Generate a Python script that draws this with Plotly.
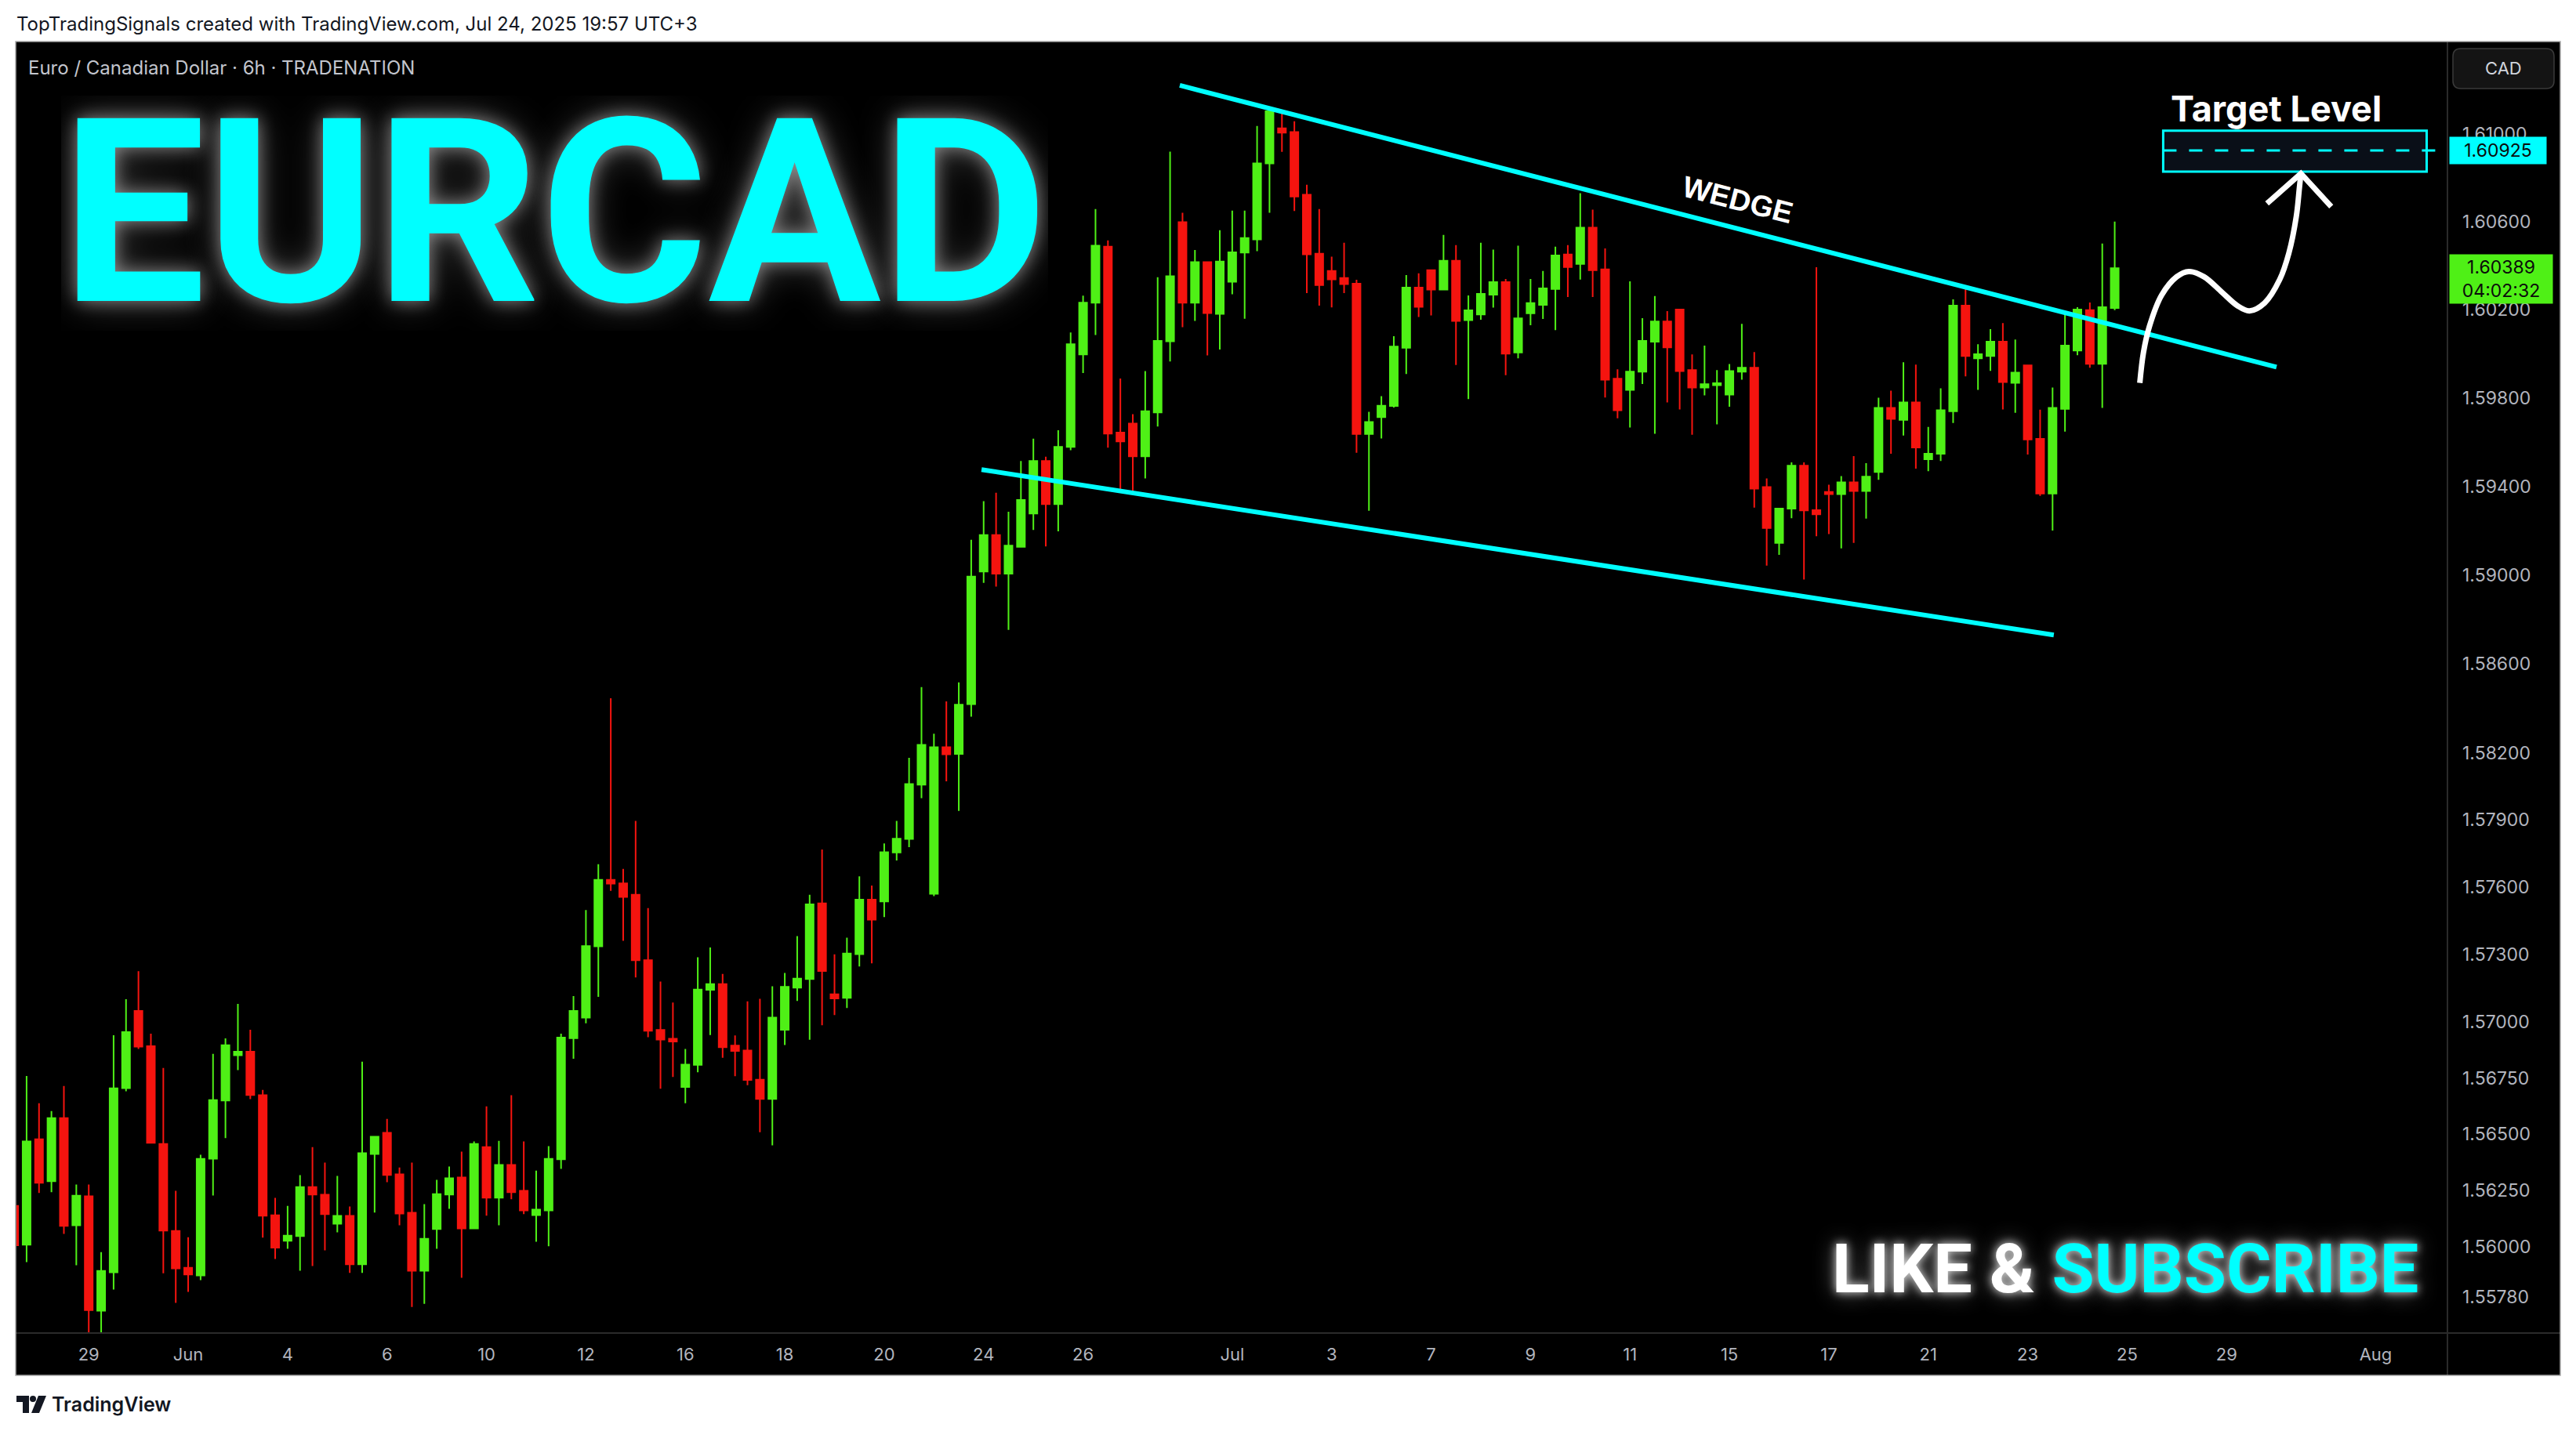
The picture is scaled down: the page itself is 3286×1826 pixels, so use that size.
import math
import plotly.graph_objects as go

W, H = 3286, 1826

# ---------------- data (EURCAD, 6h bars) ----------------
first_bar = -6          # bar index of the first visible candle (0 = May 29, 00:00)
bars_per_day = 4

opens = [
    1.56183, 1.56011, 1.56478, 1.56292, 1.56572, 1.56097,
    1.56225, 1.55719, 1.55889, 1.56705, 1.57048, 1.56891, 1.56457, 1.56072, 1.55909, 1.55875,
    1.56392, 1.56650, 1.56851, 1.56867, 1.56673, 1.56141, 1.56028, 1.56049, 1.56266, 1.56232,
    1.56104, 1.56138, 1.55924, 1.56413, 1.56506, 1.56322, 1.56152, 1.55896, 1.56080, 1.56233,
    1.56308, 1.56083, 1.56443, 1.56219, 1.56364, 1.56249, 1.56142, 1.56163, 1.56389, 1.56927,
    1.57018, 1.57336, 1.57632, 1.57617, 1.57566, 1.57274, 1.56963, 1.56924, 1.56710, 1.56808,
    1.57142, 1.57167, 1.56894, 1.56872, 1.56742, 1.56657, 1.56964, 1.57152, 1.57190, 1.57527,
    1.57122, 1.57106, 1.57301, 1.57544, 1.57536, 1.57755, 1.57815, 1.58058, 1.57570, 1.58226,
    1.58196, 1.58419, 1.59016, 1.59180, 1.59006, 1.59127, 1.59278, 1.59515, 1.59320, 1.59579,
    1.59997, 1.60232, 1.60487, 1.59643, 1.59684, 1.59536, 1.59735, 1.60057, 1.60598, 1.60232,
    1.60416, 1.60181, 1.60327, 1.60460, 1.60520, 1.60866, 1.61026, 1.61009, 1.60723, 1.60455,
    1.60376, 1.60344, 1.60318, 1.59637, 1.59713, 1.59764, 1.60028, 1.60301, 1.60380, 1.60292,
    1.60423, 1.60153, 1.60179, 1.60269, 1.60326, 1.60006, 1.60184, 1.60222, 1.60294, 1.60451,
    1.60408, 1.60573, 1.60383, 1.59887, 1.59837, 1.59919, 1.60055, 1.60147, 1.60201, 1.59926,
    1.59847, 1.59858, 1.59815, 1.59919, 1.59937, 1.59397, 1.59145, 1.59300, 1.59494, 1.59293,
    1.59375, 1.59365, 1.59418, 1.59379, 1.59465, 1.59755, 1.59701, 1.59780, 1.59523, 1.59548,
    1.59740, 1.60219, 1.59980, 1.59990, 1.60055, 1.59869, 1.59948, 1.59615, 1.59368, 1.59751,
    1.60015, 1.60198, 1.59955, 1.60208,
]
highs = [
    1.56220, 1.56759, 1.56638, 1.56603, 1.56714, 1.56277,
    1.56277, 1.55978, 1.56940, 1.57100, 1.57225, 1.56947, 1.56794, 1.56249, 1.56044, 1.56409,
    1.56857, 1.56926, 1.57079, 1.56964, 1.56697, 1.56218, 1.56183, 1.56319, 1.56443, 1.56374,
    1.56315, 1.56180, 1.56822, 1.56489, 1.56568, 1.56353, 1.56374, 1.56190, 1.56298, 1.56357,
    1.56423, 1.56468, 1.56624, 1.56471, 1.56673, 1.56468, 1.56339, 1.56447, 1.56947, 1.57114,
    1.57498, 1.57702, 1.58446, 1.57681, 1.57896, 1.57506, 1.57179, 1.57085, 1.56879, 1.57287,
    1.57331, 1.57213, 1.56939, 1.57091, 1.57102, 1.57158, 1.57217, 1.57381, 1.57566, 1.57768,
    1.57300, 1.57374, 1.57648, 1.57607, 1.57795, 1.57896, 1.58179, 1.58496, 1.58287, 1.58432,
    1.58517, 1.59159, 1.59333, 1.59371, 1.59286, 1.59515, 1.59616, 1.59534, 1.59654, 1.60097,
    1.60264, 1.60658, 1.60515, 1.59888, 1.59727, 1.59922, 1.60348, 1.60920, 1.60641, 1.60472,
    1.60416, 1.60562, 1.60651, 1.60651, 1.61037, 1.61109, 1.61098, 1.61058, 1.60769, 1.60658,
    1.60441, 1.60505, 1.60336, 1.59737, 1.59808, 1.60080, 1.60358, 1.60366, 1.60380, 1.60540,
    1.60494, 1.60265, 1.60505, 1.60473, 1.60340, 1.60491, 1.60340, 1.60376, 1.60487, 1.60494,
    1.60730, 1.60655, 1.60479, 1.59930, 1.60329, 1.60162, 1.60262, 1.60194, 1.60201, 1.59997,
    1.60037, 1.59926, 1.59954, 1.60136, 1.60008, 1.59436, 1.59300, 1.59509, 1.59509, 1.60393,
    1.59408, 1.59447, 1.59537, 1.59505, 1.59801, 1.59833, 1.59962, 1.59951, 1.59669, 1.59844,
    1.60247, 1.60305, 1.60044, 1.60112, 1.60140, 1.60065, 1.59951, 1.59747, 1.59847, 1.60190,
    1.60212, 1.60233, 1.60501, 1.60601,
]
lows = [
    1.55970, 1.55934, 1.56240, 1.56243, 1.56059, 1.55920,
    1.55612, 1.55618, 1.55813, 1.56691, 1.56879, 1.56460, 1.55885, 1.55754, 1.55802, 1.55854,
    1.56229, 1.56483, 1.56785, 1.56656, 1.56042, 1.55948, 1.55993, 1.55896, 1.55917, 1.55986,
    1.56066, 1.55886, 1.55886, 1.56153, 1.56288, 1.56097, 1.55736, 1.55750, 1.55993, 1.56170,
    1.55865, 1.56083, 1.56139, 1.56097, 1.56212, 1.56146, 1.56024, 1.56004, 1.56347, 1.56835,
    1.56993, 1.57111, 1.57583, 1.57360, 1.57197, 1.56931, 1.56702, 1.56754, 1.56638, 1.56775,
    1.56941, 1.56840, 1.56758, 1.56718, 1.56509, 1.56451, 1.56896, 1.57092, 1.56920, 1.56984,
    1.57030, 1.57061, 1.57246, 1.57260, 1.57466, 1.57719, 1.57779, 1.57998, 1.57560, 1.58073,
    1.57941, 1.58363, 1.58965, 1.58948, 1.58753, 1.59127, 1.59203, 1.59129, 1.59197, 1.59564,
    1.59913, 1.60085, 1.59575, 1.59378, 1.59378, 1.59436, 1.59671, 1.59965, 1.60121, 1.60149,
    1.59993, 1.60020, 1.60270, 1.60159, 1.60466, 1.60641, 1.60919, 1.60649, 1.60276, 1.60219,
    1.60211, 1.60276, 1.59552, 1.59290, 1.59617, 1.59757, 1.59909, 1.60167, 1.60174, 1.60292,
    1.59949, 1.59795, 1.60155, 1.60210, 1.59903, 1.59980, 1.60130, 1.60158, 1.60108, 1.60258,
    1.60337, 1.60258, 1.59802, 1.59708, 1.59666, 1.59863, 1.59638, 1.59780, 1.59748, 1.59634,
    1.59812, 1.59681, 1.59760, 1.59883, 1.59304, 1.59043, 1.59091, 1.59256, 1.58980, 1.59175,
    1.59185, 1.59120, 1.59145, 1.59255, 1.59430, 1.59548, 1.59630, 1.59480, 1.59469, 1.59515,
    1.59687, 1.59898, 1.59837, 1.59923, 1.59748, 1.59733, 1.59544, 1.59357, 1.59201, 1.59648,
    1.59994, 1.59937, 1.59755, 1.60198,
]
closes = [
    1.56008, 1.56468, 1.56285, 1.56572, 1.56094, 1.56228,
    1.55722, 1.55895, 1.56704, 1.56954, 1.56889, 1.56462, 1.56073, 1.55906, 1.55879, 1.56391,
    1.56652, 1.56895, 1.56867, 1.56674, 1.56139, 1.55998, 1.56051, 1.56266, 1.56233, 1.56146,
    1.56138, 1.55924, 1.56416, 1.56489, 1.56320, 1.56149, 1.55896, 1.56037, 1.56235, 1.56305,
    1.56083, 1.56457, 1.56219, 1.56364, 1.56243, 1.56163, 1.56166, 1.56391, 1.56929, 1.57048,
    1.57337, 1.57632, 1.57616, 1.57556, 1.57274, 1.56960, 1.56921, 1.56912, 1.56809, 1.57143,
    1.57167, 1.56887, 1.56870, 1.56741, 1.56657, 1.57018, 1.57155, 1.57192, 1.57523, 1.57226,
    1.57104, 1.57304, 1.57544, 1.57455, 1.57756, 1.57816, 1.58061, 1.58237, 1.58226, 1.58194,
    1.58417, 1.58993, 1.59180, 1.59006, 1.59133, 1.59339, 1.59515, 1.59320, 1.59579, 1.60044,
    1.60232, 1.60491, 1.59639, 1.59603, 1.59536, 1.59740, 1.60059, 1.60352, 1.60232, 1.60416,
    1.60185, 1.60419, 1.60461, 1.60526, 1.60866, 1.61104, 1.61006, 1.60715, 1.60452, 1.60312,
    1.60338, 1.60317, 1.59637, 1.59691, 1.59765, 1.60033, 1.60301, 1.60213, 1.60292, 1.60423,
    1.60149, 1.60197, 1.60272, 1.60326, 1.60001, 1.60161, 1.60230, 1.60297, 1.60447, 1.60394,
    1.60573, 1.60380, 1.59883, 1.59744, 1.59919, 1.60059, 1.60147, 1.60029, 1.59922, 1.59847,
    1.59862, 1.59867, 1.59922, 1.59937, 1.59390, 1.59212, 1.59300, 1.59494, 1.59292, 1.59274,
    1.59365, 1.59418, 1.59379, 1.59444, 1.59755, 1.59705, 1.59780, 1.59576, 1.59548, 1.59744,
    1.60219, 1.59990, 1.59998, 1.60055, 1.59872, 1.59915, 1.59612, 1.59368, 1.59755, 1.60037,
    1.60201, 1.59955, 1.60212, 1.60389,
]

# time axis: labels and their trading-day index (0 = May 29, weekends skipped)
tick_labels = ["29", "Jun", "4", "6", "10", "12", "16", "18", "20", "24", "26", "Jul",
               "3", "7", "9", "11", "15", "17", "21", "23", "25", "29", "Aug"]
tick_day_index = [0, 2, 4, 6, 8, 10, 12, 14, 16, 18, 20, 23, 25, 27, 29, 31, 33, 35, 37, 39, 41, 43, 46]

# price axis ticks
price_ticks = [1.61000, 1.60600, 1.60200, 1.59800, 1.59400, 1.59000, 1.58600, 1.58200, 1.57900,
               1.57600, 1.57300, 1.57000, 1.56750, 1.56500, 1.56250, 1.56000, 1.55780]

last_price = 1.60389
countdown = "04:02:32"
target_price = 1.60925
target_zone = [1.60828, 1.61015]          # low / high of the target box
target_zone_bars = [166.9, 188.1]

# wedge trend lines (bar index, price)
wedge_upper_bars = [87.78, 176.02]
wedge_upper_prices = [1.61222, 1.59940]
wedge_lower_bars = [71.83, 158.10]
wedge_lower_prices = [1.59476, 1.58730]

# hand-drawn projection arrow (bar index, price)
arrow_bars = [165.02, 165.31, 165.79, 166.77, 167.99, 168.96, 170.18, 171.64, 172.86,
              173.84, 175.06, 176.28, 177.01, 177.61, 177.86, 177.98]
arrow_prices = [1.59868, 1.60005, 1.60124, 1.60266, 1.60350, 1.60374, 1.60350, 1.60279, 1.60219,
                1.60195, 1.60231, 1.60338, 1.60457, 1.60624, 1.60755, 1.60820]
arrow_head_bars = [175.25, 177.98, 180.42]
arrow_head_prices = [1.60683, 1.60820, 1.60669]

# view
x_view = [-5.815, 189.77]
y_view = [1.556208, 1.614225]

# ---------------- styling ----------------
GREEN = "#4ff016"
RED = "#f5140f"
CYAN = "#00ffff"
AXIS_TXT = "#b2b5be"
UI_FONT = "Inter, Roboto, sans-serif"
BIG_FONT = "Roboto, sans-serif"


def px(x):
    return x / W


def py(y):
    return 1 - y / H


def rrect_path(x0, y0, x1, y1, r):
    def P(x, y):
        return f"{px(x):.6f},{py(y):.6f}"
    return (f"M{P(x0 + r, y0)} L{P(x1 - r, y0)} Q{P(x1, y0)} {P(x1, y0 + r)} "
            f"L{P(x1, y1 - r)} Q{P(x1, y1)} {P(x1 - r, y1)} L{P(x0 + r, y1)} "
            f"Q{P(x0, y1)} {P(x0, y1 - r)} L{P(x0, y0 + r)} Q{P(x0, y0)} {P(x0 + r, y0)} Z")


def poly_path(pts):
    return "M" + " L".join(f"{px(x):.6f},{py(y):.6f}" for x, y in pts) + " Z"


bar_index = list(range(first_bar, first_bar + len(opens)))

fig = go.Figure()

fig.add_trace(go.Candlestick(
    x=bar_index, open=opens, high=highs, low=lows, close=closes,
    increasing=dict(line=dict(color=GREEN, width=2), fillcolor=GREEN),
    decreasing=dict(line=dict(color=RED, width=2), fillcolor=RED),
    whiskerwidth=0, hoverinfo="skip", showlegend=False,
))

# wedge lines
for bx, pr in [(wedge_upper_bars, wedge_upper_prices), (wedge_lower_bars, wedge_lower_prices)]:
    fig.add_trace(go.Scatter(x=bx, y=pr, mode="lines", line=dict(color=CYAN, width=6),
                             hoverinfo="skip", showlegend=False))

# target dashed level
fig.add_trace(go.Scatter(x=[target_zone_bars[0], x_view[1]], y=[target_price, target_price],
                         mode="lines", line=dict(color=CYAN, width=3, dash="17px,16px"),
                         hoverinfo="skip", showlegend=False))

# projection arrow
fig.add_trace(go.Scatter(x=arrow_bars, y=arrow_prices, mode="lines",
                         line=dict(color="white", width=7, shape="spline", smoothing=1.0),
                         hoverinfo="skip", showlegend=False))
fig.add_trace(go.Scatter(x=arrow_head_bars, y=arrow_head_prices, mode="lines",
                         line=dict(color="white", width=7),
                         hoverinfo="skip", showlegend=False))

shapes = [
    # black chart panel (incl. axes)
    dict(type="rect", xref="paper", yref="paper", x0=px(20), x1=px(3266), y0=py(1755), y1=py(53),
         fillcolor="black", line=dict(width=0), layer="below"),
    # target zone box
    dict(type="rect", xref="x", yref="y", x0=target_zone_bars[0], x1=target_zone_bars[1],
         y0=target_zone[0], y1=target_zone[1], fillcolor="#0a0f18",
         line=dict(color=CYAN, width=3), layer="below"),
    # separators
    dict(type="line", xref="paper", yref="paper", x0=px(3122), x1=px(3122), y0=py(1755), y1=py(53),
         line=dict(color="#2a2a2a", width=2)),
    dict(type="line", xref="paper", yref="paper", x0=px(20), x1=px(3266), y0=py(1701), y1=py(1701),
         line=dict(color="#2a2a2a", width=2)),
    # frame
    dict(type="rect", xref="paper", yref="paper", x0=px(20), x1=px(3266), y0=py(1755), y1=py(53),
         line=dict(color="#a8a8a8", width=1.5), fillcolor="rgba(0,0,0,0)"),
    # CAD button
    dict(type="path", xref="paper", yref="paper", path=rrect_path(3129, 62, 3258, 113, 10),
         fillcolor="#141414", line=dict(color="#3a3a3a", width=1.5)),
    # TradingView logo
    dict(type="path", xref="paper", yref="paper",
         path=poly_path([(21, 1781), (37, 1781), (37, 1803), (29, 1803), (29, 1789), (21, 1789)]),
         fillcolor="#131722", line=dict(width=0)),
    dict(type="circle", xref="paper", yref="paper", x0=px(38), x1=px(46), y0=py(1789), y1=py(1781),
         fillcolor="#131722", line=dict(width=0)),
    dict(type="path", xref="paper", yref="paper",
         path=poly_path([(49, 1781), (59, 1781), (50, 1803), (40, 1803)]),
         fillcolor="#131722", line=dict(width=0)),
]

annotations = [
    dict(text="TopTradingSignals created with TradingView.com, Jul 24, 2025 19:57 UTC+3",
         xref="paper", yref="paper", x=px(19), y=py(31), xanchor="left", yanchor="middle",
         showarrow=False, font=dict(family=UI_FONT, size=24, color="#131722")),
    dict(text="Euro / Canadian Dollar · 6h · TRADENATION",
         xref="paper", yref="paper", x=px(34), y=py(86), xanchor="left", yanchor="middle",
         showarrow=False, font=dict(family=UI_FONT, size=24, color="#c3c6ce")),
    dict(text="EURCAD", xref="paper", yref="paper", x=px(76), y=py(272), xanchor="left",
         yanchor="middle", showarrow=False, height=300, valign="middle",
         font=dict(family=BIG_FONT, size=328, color=CYAN, weight="bold",
                   shadow="0 0 22px rgba(255,255,255,0.45), 0 0 50px rgba(255,255,255,0.28)")),
    dict(text="WEDGE", xref="paper", yref="paper", x=px(2217), y=py(255), xanchor="center",
         yanchor="middle", showarrow=False, textangle=14.4,
         font=dict(family="Liberation Sans, Arial, sans-serif", size=38, color="white", weight="bold")),
    dict(text="Target Level", xref="paper", yref="paper", x=px(2903), y=py(138), xanchor="center",
         yanchor="middle", showarrow=False,
         font=dict(family=UI_FONT, size=45, color="white", weight="bold")),
    dict(text='LIKE &amp; <span style="color:#00ffff">SUBSCRIBE</span>', xref="paper", yref="paper",
         x=px(2711), y=py(1618), xanchor="center", yanchor="middle", showarrow=False,
         font=dict(family=BIG_FONT, size=88, color="white", weight="bold",
                   shadow="0 0 12px rgba(255,255,255,0.85), 0 0 28px rgba(255,255,255,0.45)")),
    # price-axis labels
    dict(text=f"{target_price:.5f}", xref="paper", yref="y", x=px(3124), y=math.log10(target_price),
         xanchor="left", yanchor="middle", showarrow=False, bgcolor=CYAN, borderpad=0,
         width=123, height=34, align="center",
         font=dict(family=UI_FONT, size=23, color="#0b0b0b")),
    dict(text=f"{last_price:.5f}<br>{countdown}", xref="paper", yref="y", x=px(3124),
         y=math.log10(last_price), yshift=18, xanchor="left", yanchor="top", showarrow=False,
         bgcolor=GREEN, borderpad=0, width=131, height=62, align="center",
         font=dict(family=UI_FONT, size=23, color="#0b0b0b")),
    dict(text="CAD", xref="paper", yref="paper", x=px(3193.5), y=py(87.5), xanchor="center",
         yanchor="middle", showarrow=False, font=dict(family=UI_FONT, size=22, color="#d1d4dc")),
    dict(text="TradingView", xref="paper", yref="paper", x=px(64), y=py(1792), xanchor="left",
         yanchor="middle", showarrow=False,
         font=dict(family=UI_FONT, size=25, color="#131722", weight=600)),
]

fig.update_layout(
    width=W, height=H, margin=dict(l=0, r=0, t=0, b=0),
    paper_bgcolor="white", plot_bgcolor="black",
    boxgap=0.37, boxgroupgap=0, showlegend=False,
    xaxis=dict(domain=[px(21), px(3122)], range=x_view,
               tickvals=[d * bars_per_day for d in tick_day_index], ticktext=tick_labels,
               showgrid=False, zeroline=False, showline=False, ticks="",
               tickfont=dict(family=UI_FONT, size=22, color=AXIS_TXT), ticklabelstandoff=12,
               rangeslider=dict(visible=False)),
    yaxis=dict(domain=[1 - 1701 / H, 1 - 53 / H], type="log",
               range=[math.log10(y_view[0]), math.log10(y_view[1])], side="right",
               tickvals=price_ticks, ticktext=[f"{v:.5f}" for v in price_ticks],
               showgrid=False, zeroline=False, showline=False, ticks="",
               tickfont=dict(family=UI_FONT, size=23, color=AXIS_TXT), ticklabelstandoff=18),
    shapes=shapes, annotations=annotations,
)

fig.write_html(
    "out.html",
    config={"displayModeBar": False},
    post_script="document.body.style.margin='0px'; document.body.style.overflow='hidden';",
)
